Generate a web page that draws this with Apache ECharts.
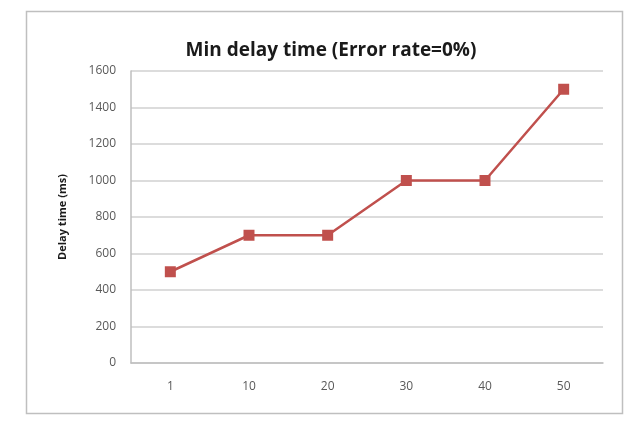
<!DOCTYPE html>
<html><head><meta charset="utf-8">
<script src="https://cdn.jsdelivr.net/npm/echarts@6/dist/echarts.min.js"></script>
<style>html,body{margin:0;padding:0;background:#fff}#c{width:638px;height:427px}</style>
</head><body><div id="c"></div>
<script>
const categories = ['1','10','20','30','40','50'];
const delayValues = [500, 700, 700, 1000, 1000, 1500];
const chart = echarts.init(document.getElementById('c'));
chart.setOption({
  animation: false,
  backgroundColor: '#fff',
  graphic: [{type:'rect', shape:{x:26.5,y:11.5,width:596,height:402}, style:{fill:'none', stroke:'#bfbfbf', lineWidth:1.5}, z:-1}],
  title: {text:'Min delay time (Error rate=0%)', left:326, top:36, textAlign:'center',
    textStyle:{fontFamily:'Open Sans', fontWeight:'bold', fontSize:19, color:'#1a1a1a'}},
  grid: {left:131, right:35, top:71, bottom:64},
  xAxis: {type:'category', data:categories, boundaryGap:true,
    axisLine:{lineStyle:{color:'#bfbfbf', width:1.5}}, axisTick:{show:false},
    axisLabel:{color:'#595959', fontSize:12, fontFamily:'Open Sans', margin:18}},
  yAxis: {type:'value', min:0, max:1600, interval:200,
    name:'Delay time (ms)', nameLocation:'middle', nameGap:63, nameRotate:90,
    nameTextStyle:{fontFamily:'Open Sans', fontWeight:'bold', fontSize:11, color:'#1a1a1a'},
    axisLine:{show:true, lineStyle:{color:'#bfbfbf', width:1.5}}, axisTick:{show:false},
    splitLine:{lineStyle:{color:'#d0d0d0', width:1.5}},
    axisLabel:{color:'#595959', fontSize:12, fontFamily:'Open Sans', margin:15, formatter: v => String(v)}},
  series: [{type:'line', data:delayValues, symbol:'rect', symbolSize:11,
    lineStyle:{color:'#c0504d', width:2.5}, itemStyle:{color:'#c0504d'}}]
});
</script></body></html>
